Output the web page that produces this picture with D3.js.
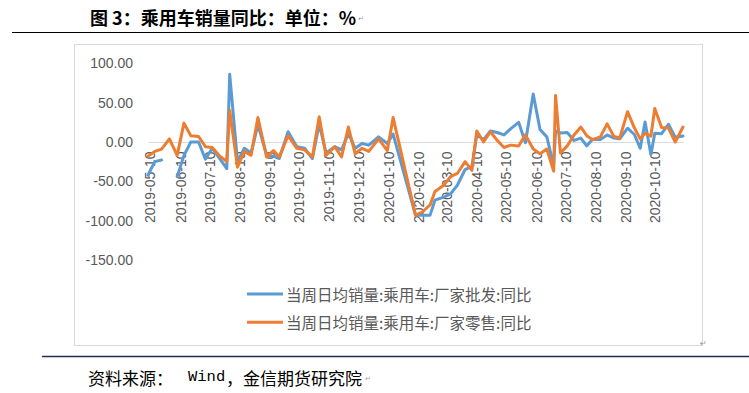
<!DOCTYPE html>
<html><head><meta charset="utf-8">
<script src="https://cdn.jsdelivr.net/npm/d3@7"></script>
<style>body{margin:0;background:#fff}</style>
</head><body><svg id="c" width="749" height="393"></svg>
<script>
const dates = [
"2019-05-08","2019-05-15","2019-05-22","2019-05-30","2019-06-07","2019-06-14","2019-06-21","2019-06-29",
"2019-07-06","2019-07-13","2019-07-20","2019-07-28","2019-07-31","2019-08-08","2019-08-15","2019-08-22","2019-08-29",
"2019-09-07","2019-09-14","2019-09-20","2019-09-29","2019-10-08","2019-10-16","2019-10-24","2019-10-31",
"2019-11-07","2019-11-16","2019-11-23","2019-11-30","2019-12-07","2019-12-14","2019-12-21","2019-12-31",
"2020-01-09","2020-01-15","2020-02-07","2020-02-14","2020-02-22","2020-02-27",
"2020-03-07","2020-03-14","2020-03-21","2020-03-29","2020-04-05","2020-04-10","2020-04-17","2020-04-24",
"2020-05-01","2020-05-08","2020-05-15","2020-05-23","2020-05-30",
"2020-06-07","2020-06-14","2020-06-21","2020-06-28","2020-06-30",
"2020-07-05","2020-07-12","2020-07-19","2020-07-26",
"2020-08-01","2020-08-07","2020-08-15","2020-08-22","2020-08-29",
"2020-09-04","2020-09-12","2020-09-19","2020-09-25","2020-09-30",
"2020-10-06","2020-10-10","2020-10-17","2020-10-24","2020-10-31","2020-11-08"];

const wholesale = [
-42,-25,-23,null,-44,-17,0,0,-22,-8,-20,-34,86,
-25,-8,-14,22,
-17,-18,-21,13,
-6,-8,-21,23,
-14,-6,-10,11,
-8,-2,-4,6.5,
-2,10,
-93,-93,-93,-74,
-70,-66,-55,-35,
-31,9,3,14,
12,9,17,25,-1,
61,16,6.5,-30,14,
11.5,12,2,5,
-5,3.5,3,9,5,
4,17.5,9.5,-8,25.5,
-16,11,10.5,22.5,6,
7.5];

const retail = [
-18,-12,-9,4,-17,24,8,7,-6,-7,-17,-25,40,
-32,-12,-17,31,
-19,-11,-19,8,
-8,-10,-19,32,
-17,-6,-19,19,
-15,-8,-12,4,
-11,31,
-93,-89,-80,-63,
-55,-44,-40,-25,
-36,14,0,13,
2,-7,-4,-5,9,
-9,-15,-9,-37,59,
-14,-5,9,19,
8,3,6.5,23,7,
5,38.5,18,4,11,
7.5,42.5,18.5,18,0,
19];

const yTicks = [100, 50, 0, -50, -100, -150];
const xTickLabels = ["2019-05-10","2019-06-10","2019-07-10","2019-08-10","2019-09-10","2019-10-10",
"2019-11-10","2019-12-10","2020-01-10","2020-02-10","2020-03-10","2020-04-10","2020-05-10",
"2020-06-10","2020-07-10","2020-08-10","2020-09-10","2020-10-10"];
const seriesNames = ["当周日均销量:乘用车:厂家批发:同比", "当周日均销量:乘用车:厂家零售:同比"];
const seriesColors = ["#5B9BD5", "#ED7D31"];
const titleText = "图 3：乘用车销量同比：单位：%";
const sourceParts = ["资料来源：", "Wind", "，金信期货研究院"];

const svg = d3.select("#c");
const parse = d3.timeParse("%Y-%m-%d");
const x = d3.scaleTime().domain([parse(dates[0]), parse(dates[dates.length-1])]).range([148, 683]);
const y = d3.scaleLinear().domain([-150, 100]).range([260, 63.3]);

// title
svg.append("text").attr("x", 90).attr("y", 17).attr("dominant-baseline", "central")
  .attr("font-family", "'Noto Sans CJK SC', sans-serif").attr("font-weight", "bold")
  .attr("font-size", 18).attr("fill", "#000").text(titleText);
svg.append("text").attr("x", 358).attr("y", 21).attr("font-family", "DejaVu Sans")
  .attr("font-size", 7).attr("fill", "#999").text("↵");
svg.append("line").attr("x1", 12).attr("x2", 749).attr("y1", 32.5).attr("y2", 32.5)
  .attr("stroke", "#000").attr("stroke-width", 1.2);

// chart frame
svg.append("rect").attr("x", 74.5).attr("y", 44.5).attr("width", 628).attr("height", 301)
  .attr("fill", "#fff").attr("stroke", "#D9D9D9").attr("stroke-width", 1);
svg.append("text").attr("x", 700).attr("y", 346).attr("font-family", "DejaVu Sans")
  .attr("font-size", 8).attr("fill", "#999").text("↵");

// y axis
const yAxis = svg.append("g").attr("transform", "translate(133,0)")
  .call(d3.axisLeft(y).tickValues(yTicks).tickFormat(d => d.toFixed(2)).tickSize(0).tickPadding(0));
yAxis.select(".domain").remove();
yAxis.selectAll("text").attr("font-family", "'Liberation Sans', Arial, sans-serif")
  .attr("font-size", 14).attr("fill", "#595959");

// x axis
const xAxis = svg.append("g").attr("transform", `translate(0,${y(0)})`)
  .call(d3.axisBottom(x).tickValues(xTickLabels.map(parse)).tickFormat(d3.timeFormat("%Y-%m-%d"))
  .tickSize(0).tickSizeOuter(0));
xAxis.select(".domain").attr("stroke", "#D9D9D9").attr("stroke-width", 1);
xAxis.selectAll("text").attr("transform", "rotate(-90)").attr("text-anchor", "end")
  .attr("x", -9.5).attr("y", 0).attr("dy", "0.35em")
  .attr("font-family", "'Liberation Sans', Arial, sans-serif")
  .attr("font-size", 14).attr("fill", "#595959");

// lines
const series = [wholesale, retail];
series.forEach((vals, i) => {
  const pts = dates.map((d, j) => ({ date: parse(d), v: vals[j] }));
  const line = d3.line().defined(p => p.v !== null).x(p => x(p.date)).y(p => y(p.v));
  svg.append("path").attr("d", line(pts)).attr("fill", "none")
    .attr("stroke", seriesColors[i]).attr("stroke-width", 3)
    .attr("stroke-linejoin", "round").attr("stroke-linecap", "round");
});

// legend
seriesNames.forEach((name, i) => {
  const ly = 294 + i * 28.3;
  svg.append("line").attr("x1", 247).attr("x2", 283).attr("y1", ly).attr("y2", ly)
    .attr("stroke", seriesColors[i]).attr("stroke-width", 3);
  svg.append("text").attr("x", 286).attr("y", ly).attr("dominant-baseline", "central")
    .attr("font-family", "'Noto Sans CJK SC', sans-serif").attr("font-size", 15.5)
    .attr("fill", "#595959").text(name);
});

// footer
svg.append("line").attr("x1", 42).attr("x2", 749).attr("y1", 356.5).attr("y2", 356.5)
  .attr("stroke", "#1F2D5A").attr("stroke-width", 1.5);
const ft = svg.append("text").attr("y", 376.5).attr("dominant-baseline", "central").attr("fill", "#000");
ft.append("tspan").attr("x", 88).attr("font-family", "'Noto Sans CJK SC', sans-serif")
  .attr("font-size", 17).text(sourceParts[0]);
ft.append("tspan").attr("x", 188).attr("font-family", "'Liberation Mono', monospace")
  .attr("font-size", 15.5).text(sourceParts[1]);
ft.append("tspan").attr("x", 226).attr("font-family", "'Noto Sans CJK SC', sans-serif")
  .attr("font-size", 17).text(sourceParts[2]);
svg.append("text").attr("x", 365).attr("y", 381).attr("font-family", "DejaVu Sans")
  .attr("font-size", 7).attr("fill", "#999").text("↵");
</script></body></html>
